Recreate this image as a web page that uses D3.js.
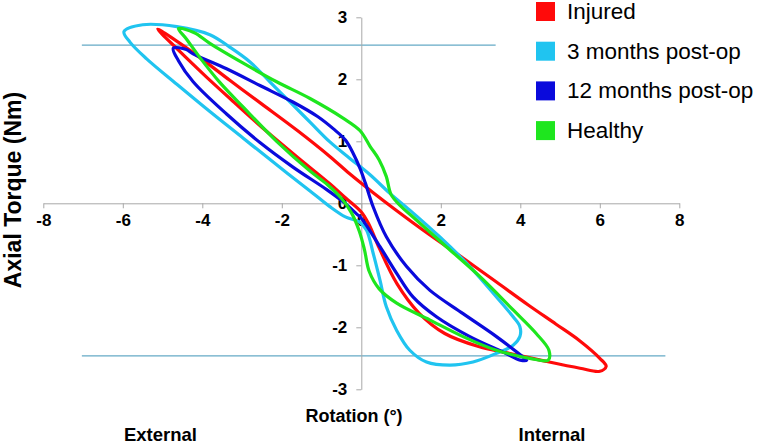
<!DOCTYPE html>
<html>
<head>
<meta charset="utf-8">
<script src="https://cdn.jsdelivr.net/npm/d3@7"></script>
<style>
  html, body { margin: 0; padding: 0; background: #ffffff; }
  svg { display: block; }
  text { font-family: "Liberation Sans", Arial, sans-serif; }
</style>
</head>
<body>
<svg id="chart" width="758" height="446"></svg>
<script>
// ---------------- DATA ----------------
const seriesNames = ["Injured", "3 months post-op", "12 months post-op", "Healthy"];
const seriesColors = ["#ff0a0a", "#20c4f0", "#0a0adc", "#1ee61e"];

const xTicks = [-8, -6, -4, -2, 0, 2, 4, 6, 8];
const yTicks = [-3, -2, -1, 0, 1, 2, 3];

// Hysteresis loops: [rotation (deg), axial torque (Nm)]
const injured = [
  [-5.12, 2.81], [-4.6, 2.47], [-3.9, 2.04], [-3.2, 1.63], [-2.4, 1.17], [-1.6, 0.74],
  [-0.8, 0.32], [-0.4, 0.09], [0.0, -0.14], [0.2, -0.35], [0.45, -0.72], [0.9, -1.3],
  [1.45, -1.77], [2.1, -2.1], [2.95, -2.31], [3.8, -2.43], [4.65, -2.55], [5.5, -2.66],
  [6.0, -2.71], [6.16, -2.63], [6.0, -2.5], [5.5, -2.22], [4.9, -1.95], [4.2, -1.64],
  [3.4, -1.27], [2.55, -0.88], [1.7, -0.5], [0.85, -0.1], [0.3, 0.17], [-0.3, 0.48],
  [-0.8, 0.76], [-1.6, 1.17], [-2.5, 1.6], [-3.3, 1.98], [-4.1, 2.37], [-4.7, 2.64]
];
const postOp3 = [
  [-5.97, 2.77], [-5.5, 2.88], [-4.64, 2.85], [-3.81, 2.72], [-3.31, 2.52], [-2.8, 2.28],
  [-2.3, 1.96], [-1.79, 1.63], [-1.29, 1.31], [-0.79, 0.99], [-0.28, 0.72], [0.22, 0.46],
  [0.72, 0.16], [1.22, -0.11], [1.97, -0.54], [2.73, -1.02], [3.4, -1.51], [3.82, -1.83],
  [3.99, -1.99], [3.99, -2.15], [3.82, -2.29], [3.4, -2.42], [2.81, -2.56], [2.23, -2.61],
  [1.64, -2.56], [1.22, -2.37], [0.89, -2.05], [0.63, -1.67], [0.47, -1.24], [0.3, -0.81],
  [0.13, -0.43], [-0.05, -0.3], [-0.4, -0.22], [-0.8, -0.05], [-1.29, 0.2], [-2.13, 0.62],
  [-2.97, 1.05], [-3.81, 1.48], [-4.64, 1.92], [-5.4, 2.33], [-5.82, 2.6]
];
const postOp12 = [
  [-4.73, 2.5], [-4.4, 2.48], [-4.23, 2.41], [-3.39, 2.17], [-2.55, 1.9], [-1.71, 1.63],
  [-1.1, 1.4], [-0.7, 1.2], [-0.4, 1.02], [-0.2, 0.8], [-0.03, 0.56], [0.1, 0.33],
  [0.3, -0.06], [0.63, -0.54], [1.14, -1.02], [1.72, -1.4], [2.56, -1.78], [3.4, -2.15],
  [4.07, -2.48], [4.16, -2.53], [4.0, -2.53], [3.57, -2.4], [2.73, -2.15], [1.89, -1.83],
  [1.3, -1.51], [0.89, -1.13], [0.47, -0.7], [0.0, -0.24], [-0.12, -0.17], [-0.45, 0.02],
  [-0.87, 0.22], [-1.71, 0.58], [-2.55, 0.98], [-3.39, 1.44], [-4.23, 1.96], [-4.6, 2.3]
];
const healthy = [
  [-4.6, 2.82], [-4.2, 2.75], [-3.81, 2.58], [-2.97, 2.26], [-2.13, 1.96], [-1.29, 1.69],
  [-0.45, 1.37], [-0.03, 1.17], [0.22, 0.92], [0.45, 0.7], [0.63, 0.43], [0.75, 0.14],
  [1.0, -0.05], [1.3, -0.22], [2.14, -0.7], [2.98, -1.18], [3.82, -1.72], [4.4, -2.1],
  [4.72, -2.37], [4.7, -2.53], [4.24, -2.5], [3.4, -2.37], [2.56, -2.15], [1.72, -1.88],
  [0.89, -1.61], [0.45, -1.38], [0.2, -1.1], [0.08, -0.75], [-0.05, -0.45], [-0.25, -0.15],
  [-0.5, 0.08], [-0.85, 0.3], [-1.29, 0.52], [-2.13, 1.0], [-2.97, 1.55], [-3.56, 1.95],
  [-4.06, 2.35], [-4.4, 2.65]
];
const loops = [injured, postOp3, postOp12, healthy];

// horizontal reference lines: torque level and rotation extent
const refTorque = [2.55, -2.46];
const refFrom = [-7.03, -7.03];
const refTo = [3.38, 7.65];

// ---------------- DRAW ----------------
const svg = d3.select("#chart");
const x = d3.scaleLinear().domain([-8, 8]).range([43.3, 679.3]);
const y = d3.scaleLinear().domain([-3, 3]).range([389.3, 17.3]);
const axisColor = "#a8a8a8";
const fmt = d => String(d);

// reference lines
svg.append("g").selectAll("line").data(refTorque).join("line")
  .attr("x1", (d, i) => x(refFrom[i])).attr("x2", (d, i) => x(refTo[i]))
  .attr("y1", d => y(d)).attr("y2", d => y(d))
  .attr("stroke", "#64aac6").attr("stroke-width", 1.2);

// x axis
const xAxis = svg.append("g").attr("transform", `translate(0,${y(0)})`)
  .call(d3.axisBottom(x).tickValues(xTicks).tickFormat(fmt).tickSize(5).tickSizeOuter(0).tickPadding(6));
xAxis.select(".domain").attr("stroke", axisColor);
xAxis.selectAll(".tick line").attr("stroke", axisColor);
xAxis.selectAll(".tick text").attr("font-size", 17).attr("font-weight", "bold")
  .attr("font-family", "Liberation Sans, Arial, sans-serif").attr("fill", "#000");

// y axis
const yAxis = svg.append("g").attr("transform", `translate(${x(0)},0)`)
  .call(d3.axisLeft(y).tickValues(yTicks).tickFormat(fmt).tickSize(5).tickSizeOuter(0).tickPadding(9));
yAxis.select(".domain").attr("stroke", axisColor);
yAxis.selectAll(".tick line").attr("stroke", axisColor);
yAxis.selectAll(".tick text").attr("font-size", 17).attr("font-weight", "bold")
  .attr("font-family", "Liberation Sans, Arial, sans-serif").attr("fill", "#000");

// loops
const line = d3.line().x(d => x(d[0])).y(d => y(d[1])).curve(d3.curveCatmullRomClosed.alpha(0.5));
svg.append("g").selectAll("path").data(loops).join("path")
  .attr("d", d => line(d))
  .attr("fill", "none")
  .attr("stroke", (d, i) => seriesColors[i])
  .attr("stroke-width", 3.2)
  .attr("stroke-linejoin", "round");

// axis titles
svg.append("text").attr("transform", "translate(21,190) rotate(-90)")
  .attr("text-anchor", "middle").attr("font-size", 23).attr("font-weight", "bold")
  .text("Axial Torque (Nm)");
svg.append("text").attr("x", 354).attr("y", 422)
  .attr("text-anchor", "middle").attr("font-size", 18).attr("font-weight", "bold")
  .text("Rotation (°)");
svg.append("text").attr("x", 160.5).attr("y", 440.5)
  .attr("text-anchor", "middle").attr("font-size", 18.5).attr("font-weight", "bold")
  .text("External");
svg.append("text").attr("x", 552).attr("y", 440.5)
  .attr("text-anchor", "middle").attr("font-size", 18.5).attr("font-weight", "bold")
  .text("Internal");

// legend
const legend = svg.append("g").attr("transform", "translate(536,2)");
const rows = legend.selectAll("g").data(seriesNames).join("g")
  .attr("transform", (d, i) => `translate(0,${i * 39.7})`);
rows.append("rect").attr("width", 19).attr("height", 19)
  .attr("fill", (d, i) => seriesColors[i]);
rows.append("text").attr("x", 31).attr("y", 17).attr("font-size", 22.5)
  .attr("fill", "#000").text(d => d);
</script>
</body>
</html>
